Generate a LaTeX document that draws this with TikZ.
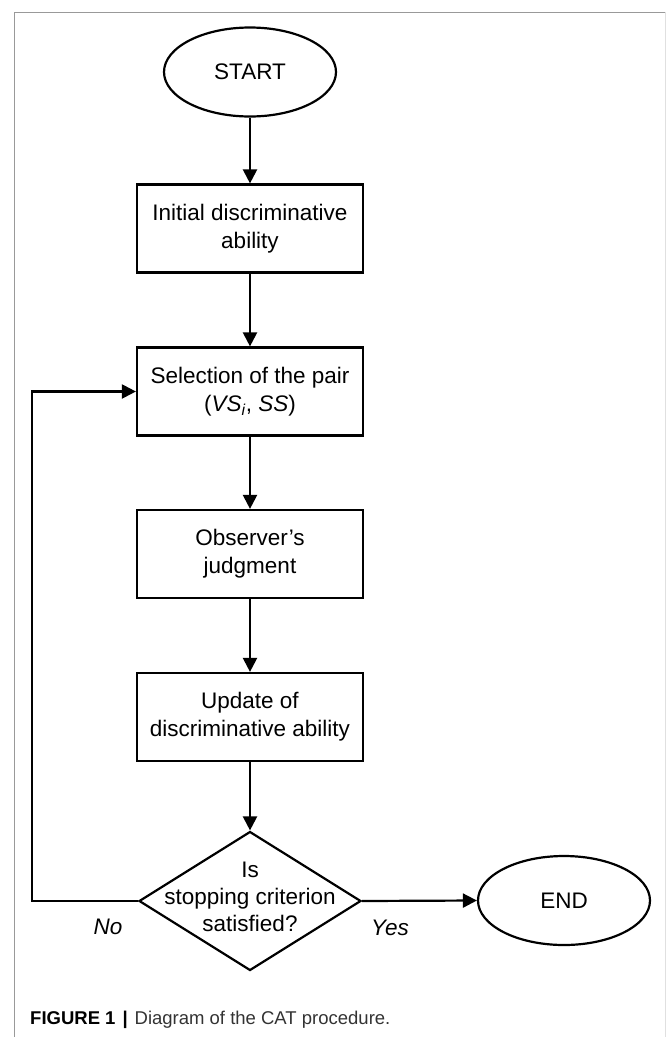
\documentclass[tikz,border=0pt]{standalone}
\usepackage{fontspec}
\setmainfont{Liberation Sans}
\usetikzlibrary{shapes.geometric,arrows.meta}
\tikzset{
  base/.style={draw=black,line width=2.2pt,inner sep=0pt,font=\fontsize{22.5}{28}\selectfont,align=center},
  procbox/.style={base,rectangle,minimum width=226pt,minimum height=88pt},
  terminal/.style={base,ellipse,minimum width=172pt,minimum height=89pt},
  decision/.style={base,diamond,minimum width=222pt,minimum height=139pt},
  conn/.style={line width=2.2pt,-{Triangle[length=14pt,width=14pt]}},
  frameline/.style={draw=black!40,line width=1pt},
  lbl/.style={font=\fontsize{22.5}{28}\selectfont\itshape,inner sep=0pt},
}
\begin{document}
\begin{tikzpicture}[x=1pt,y=-1pt]
\useasboundingbox (0,0) rectangle (668,1037);
% frame
\coordinate (ftl) at (14,12);
\coordinate (ftr) at (665,12);
\coordinate (fbl) at (14,1037);
\coordinate (fbr) at (665,1037);
\draw[frameline] (fbl) -- (ftl) -- (ftr);
\draw[draw=black!12,line width=1pt] (ftr) -- (fbr);
% nodes
\node[terminal] (start) at (250,72) {START};
\node[procbox] (b1) at (250,228.5) {Initial discriminative\\ability};
\node[procbox] (b2) at (250,391.5) {Selection of the pair\\(\textit{VS}\textsubscript{\textit{i}}, \textit{SS})};
\node[procbox] (b3) at (250,554) {Observer’s\\judgment};
\node[procbox] (b4) at (250,717) {Update of\\discriminative ability};
\node[decision] (dec) at (250,901) {};
\node[font=\fontsize{22.5}{27}\selectfont,align=center,inner sep=0pt] (dectext) at (250,897) {Is\\stopping criterion\\satisfied?};
\node[terminal] (end) at (564,900.5) {END};
\coordinate (loop) at (32,901);
% connectors
\draw[conn] (start) -- (b1);
\draw[conn] (b1) -- (b2);
\draw[conn] (b2) -- (b3);
\draw[conn] (b3) -- (b4);
\draw[conn] (b4) -- (dec.north);
\draw[conn] (dec.east) -- (end.west);
\draw[conn] (dec.west) -- (loop) |- (b2.west);
% labels
\node[lbl] (no) at (108,927) {No};
\node[lbl] (yes) at (390,928) {Yes};
% caption
\node[anchor=west,inner sep=0pt,font=\fontsize{18.5}{22}\selectfont] (cap) at (30,1020)
  {\textbf{FIGURE 1}\hspace{7pt}\textbf{|}\hspace{7pt}\textcolor{black!80}{Diagram of the CAT procedure.}};
\end{tikzpicture}
\end{document}
